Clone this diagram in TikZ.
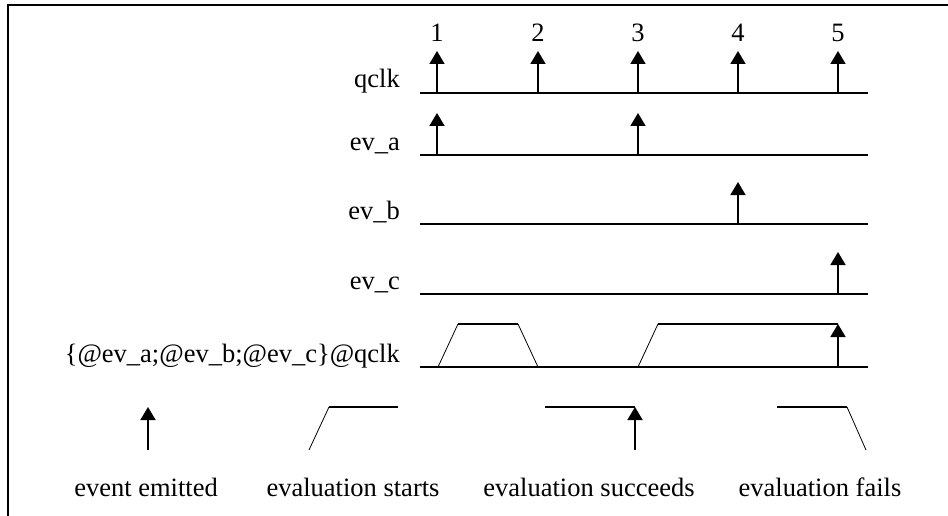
\documentclass[tikz,border=0pt]{standalone}
\usepackage{fontspec}
\setmainfont{Liberation Serif}
\usetikzlibrary{arrows.meta}

\begin{document}
\begin{tikzpicture}[x=1pt,y=-1pt,
    sig/.style={line width=1.6pt},
    slope/.style={line width=0.8pt},
    evt/.style={line width=1.6pt,-{Triangle[width=15pt,length=13pt]}},
    lbl/.style={anchor=base east,inner sep=0pt,font=\fontsize{26.5}{30}\selectfont},
    txt/.style={anchor=base,inner sep=0pt,font=\fontsize{26.5}{30}\selectfont}]
      \useasboundingbox (0,0) rectangle (948,516);
      % Frame
      \draw[line width=2pt] (8,516) -- (8,5) -- (948,5);
      % Clock
      \draw[sig] (420,93) -- (868,93);
      \node[lbl] (qclk) at (400,88) {qclk};
      \foreach \x/\n in {437/1,538/2,638/3,738/4,838/5} {
        \node[txt] (tick\n) at (\x,42) {\n};
        \draw[evt] (\x,93) -- (\x,51);
      }
      % Events
      \draw[sig] (420,155) -- (868,155);
      \node[lbl] (eva) at (400,150) {ev\_a};
      \draw[evt] (437,155) -- (437,113);
      \draw[evt] (638,155) -- (638,113);
      \draw[sig] (420,224) -- (868,224);
      \node[lbl] (evb) at (400,219) {ev\_b};
      \draw[evt] (738,224) -- (738,182);
      \draw[sig] (420,294) -- (868,294);
      \node[lbl] (evc) at (400,289) {ev\_c};
      \draw[evt] (838,294) -- (838,252);
      % Sequence
      \draw[sig] (420,367) -- (868,367);
      \node[lbl] (seq) at (400,362) {\{@ev\_a;@ev\_b;@ev\_c\}@qclk};
      \draw[slope] (438,367) -- (458,324);
      \draw[sig] (458,324) -- (518,324);
      \draw[slope] (518,324) -- (538,367);
      \draw[slope] (638,367) -- (658,324);
      \draw[sig] (658,324) -- (838,324);
      \draw[evt] (838,367) -- (838,324);
      % Legend
      \draw[evt] (148,450) -- (148,407);
      \node[txt] (emitted) at (146,496) {event emitted};
      \draw[slope] (309,450) -- (329,407);
      \draw[sig] (329,407) -- (398,407);
      \node[txt] (starts) at (353,496) {evaluation starts};
      \draw[sig] (545,407) -- (635,407);
      \draw[evt] (635,450) -- (635,407);
      \node[txt] (succeeds) at (589,496) {evaluation succeeds};
      \draw[sig] (777,407) -- (847,407);
      \draw[slope] (847,407) -- (866,450);
      \node[txt] (fails) at (820,496) {evaluation fails};
    \end{tikzpicture}
\end{document}
